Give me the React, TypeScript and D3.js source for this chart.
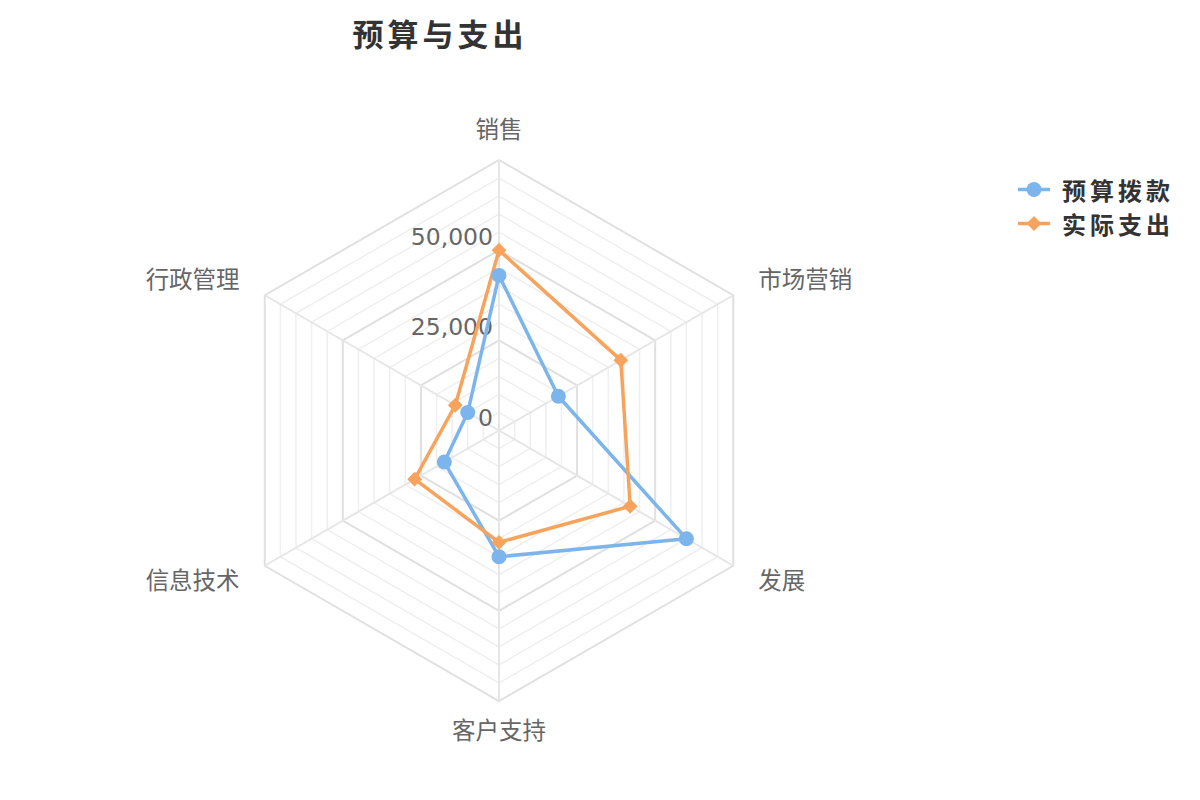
import React from "react";
import * as d3 from "d3";

const categories = ["销售", "市场营销", "发展", "客户支持", "信息技术", "行政管理"];
const budget = [43000, 19000, 60000, 35000, 17500, 10000];
const actual = [50000, 39000, 42000, 31000, 27000, 14000];
const seriesNames = ["预算拨款", "实际支出"];
const tickValues = [0, 25000, 50000];
const title = "预算与支出";

const W = 1200;
const H = 800;
const cx = 499;
const cy = 430.5;
const R = 270.5;
const maxV = 75000;
const colors = ["#7cb5ec", "#f7a35c"];
const FONT = "'Noto Sans CJK SC', 'DejaVu Sans', sans-serif";

export default function App() {
  const r = d3.scaleLinear().domain([0, maxV]).range([0, R]);
  const n = categories.length;
  const angle = d3.scaleLinear().domain([0, n]).range([0, 2 * Math.PI]);
  const pt = (i: number, v: number): [number, number] => {
    const a = angle(i);
    return [cx + r(v) * Math.sin(a), cy - r(v) * Math.cos(a)];
  };
  const ringVals = d3.range(5000, maxV + 1, 5000);
  const ringPath = (v: number) =>
    d3.line()(d3.range(n + 1).map((i) => pt(i % n, v))) as string;
  const seriesLine = (vals: number[]) =>
    d3.line()([...vals, vals[0]].map((v, i) => pt(i % n, v))) as string;

  const diamond = d3.symbol().type(d3.symbolDiamond2).size(140)();

  return (
    <svg width={W} height={H} style={{ position: "absolute", left: 0, top: 0, background: "#fff" }}>
      <text x={440} y={32} textAnchor="middle" dominantBaseline="central" fontFamily={FONT} fontWeight="bold" fontSize={31} letterSpacing={4} fill="#333">
        {title}
      </text>
      {ringVals.map((v) => (
        <path key={v} d={ringPath(v)} fill="none" stroke={v % 25000 === 0 ? "#e0e0e0" : "#efefef"} strokeWidth={v % 25000 === 0 ? 2 : 1.5} />
      ))}
      {categories.map((c, i) => {
        const [x, y] = pt(i, maxV);
        return <line key={c} x1={cx} y1={cy} x2={x} y2={y} stroke="#e6e6e6" strokeWidth={2} />;
      })}
      {categories.map((c, i) => {
        const a = angle(i);
        const x = cx + (R + 29) * Math.sin(a);
        const y = cy - (R + 30) * Math.cos(a) - 2;
        const s = Math.sin(a);
        const anchor = Math.abs(s) < 0.01 ? "middle" : s > 0 ? "start" : "end";
        return (
          <text key={c} x={x} y={y} textAnchor={anchor} dominantBaseline="central" fontFamily={FONT} fontSize={23.5} fill="#666">
            {c}
          </text>
        );
      })}
      {tickValues.map((v) => (
        <text key={v} x={cx - 6} y={cy - r(v) - 13} textAnchor="end" dominantBaseline="central" fontFamily="'DejaVu Sans', sans-serif" fontSize={23.5} fill="#666">
          {d3.format(",")(v)}
        </text>
      ))}
      <path d={seriesLine(budget)} fill="none" stroke={colors[0]} strokeWidth={3.5} strokeLinejoin="round" />
      <path d={seriesLine(actual)} fill="none" stroke={colors[1]} strokeWidth={3.5} strokeLinejoin="round" />
      {budget.map((v, i) => {
        const [x, y] = pt(i, v);
        return <circle key={"b" + i} cx={x} cy={y} r={7.5} fill={colors[0]} />;
      })}
      {actual.map((v, i) => {
        const [x, y] = pt(i, v);
        return <path key={"a" + i} d={diamond} transform={`translate(${x},${y})`} fill={colors[1]} />;
      })}
      {seriesNames.map((name, i) => {
        const y = 189.5 + i * 34;
        return (
          <g key={name}>
            <line x1={1018} x2={1050} y1={y} y2={y} stroke={colors[i]} strokeWidth={3.5} />
            {i === 0 ? (
              <circle cx={1034} cy={y} r={7.5} fill={colors[0]} />
            ) : (
              <path d={diamond} transform={`translate(1034,${y})`} fill={colors[1]} />
            )}
            <text x={1062} y={y} dominantBaseline="central" fontFamily={FONT} fontWeight="bold" fontSize={24} letterSpacing={4} fill="#333">
              {name}
            </text>
          </g>
        );
      })}
    </svg>
  );
}
